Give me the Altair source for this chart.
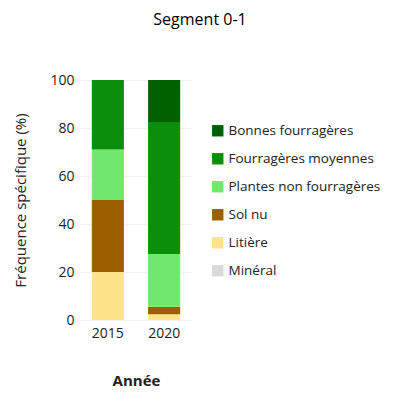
import altair as alt
import pandas as pd

years = ["2015", "2015", "2015", "2015", "2020", "2020", "2020", "2020", "2020"]
categories = ["Litière", "Sol nu", "Plantes non fourragères", "Fourragères moyennes",
              "Litière", "Sol nu", "Plantes non fourragères", "Fourragères moyennes", "Bonnes fourragères"]
values = [20, 30, 21, 29, 2.4, 3.1, 22, 55, 17.5]

legend_order = ["Bonnes fourragères", "Fourragères moyennes", "Plantes non fourragères",
                "Sol nu", "Litière", "Minéral"]
colors = ["#006000", "#0A8F0A", "#70E870", "#9C5F00", "#FFE38A", "#D9D9D9"]
stack_rank = {c: len(legend_order) - i for i, c in enumerate(legend_order)}

df = pd.DataFrame({"Année": years, "cat": categories, "val": values})
df["rank"] = df["cat"].map(stack_rank)

FONT = "Open Sans"

chart = alt.Chart(df).mark_bar().encode(
    x=alt.X("Année:N", axis=alt.Axis(labelAngle=0, title="Année", titleFontWeight="bold",
                                       titleFontSize=15, titlePadding=33, labelFontSize=14,
                                       labelPadding=6, ticks=False, domain=False,
                                       grid=True, gridColor="#f2f2f2"),
            scale=alt.Scale(paddingInner=0.43, paddingOuter=0.21)),
    y=alt.Y("val:Q", stack="zero",
            axis=alt.Axis(title="Fréquence spécifique (%)", titleFontSize=15, titleFontWeight="normal",
                          titlePadding=21, labelFontSize=14, tickCount=5, ticks=False, domain=False,
                          gridColor="#f2f2f2", labelPadding=6),
            scale=alt.Scale(domain=[0, 100])),
    color=alt.Color("cat:N", scale=alt.Scale(domain=legend_order, range=colors),
                    legend=alt.Legend(title=None, orient="none", legendX=131, legendY=44,
                                      labelFontSize=13.5, symbolType="square", symbolSize=130,
                                      rowPadding=13, symbolStrokeWidth=0, labelLimit=300)),
    order=alt.Order("rank:Q", sort="ascending"),
).properties(
    width=112, height=240,
    padding={"left": 5, "top": 4, "right": 0, "bottom": 0},
    title=alt.TitleParams("Segment 0-1", fontSize=16, fontWeight="normal", anchor="middle",
                          offset=45, dx=64, font=FONT),
).configure(font=FONT).configure_view(stroke=None).configure_axis(
    labelFont=FONT, titleFont=FONT, labelColor="#222", titleColor="#222"
).configure_legend(labelFont=FONT, labelColor="#222")

chart.save("out.html", embed_options={"renderer": "svg", "actions": False})
